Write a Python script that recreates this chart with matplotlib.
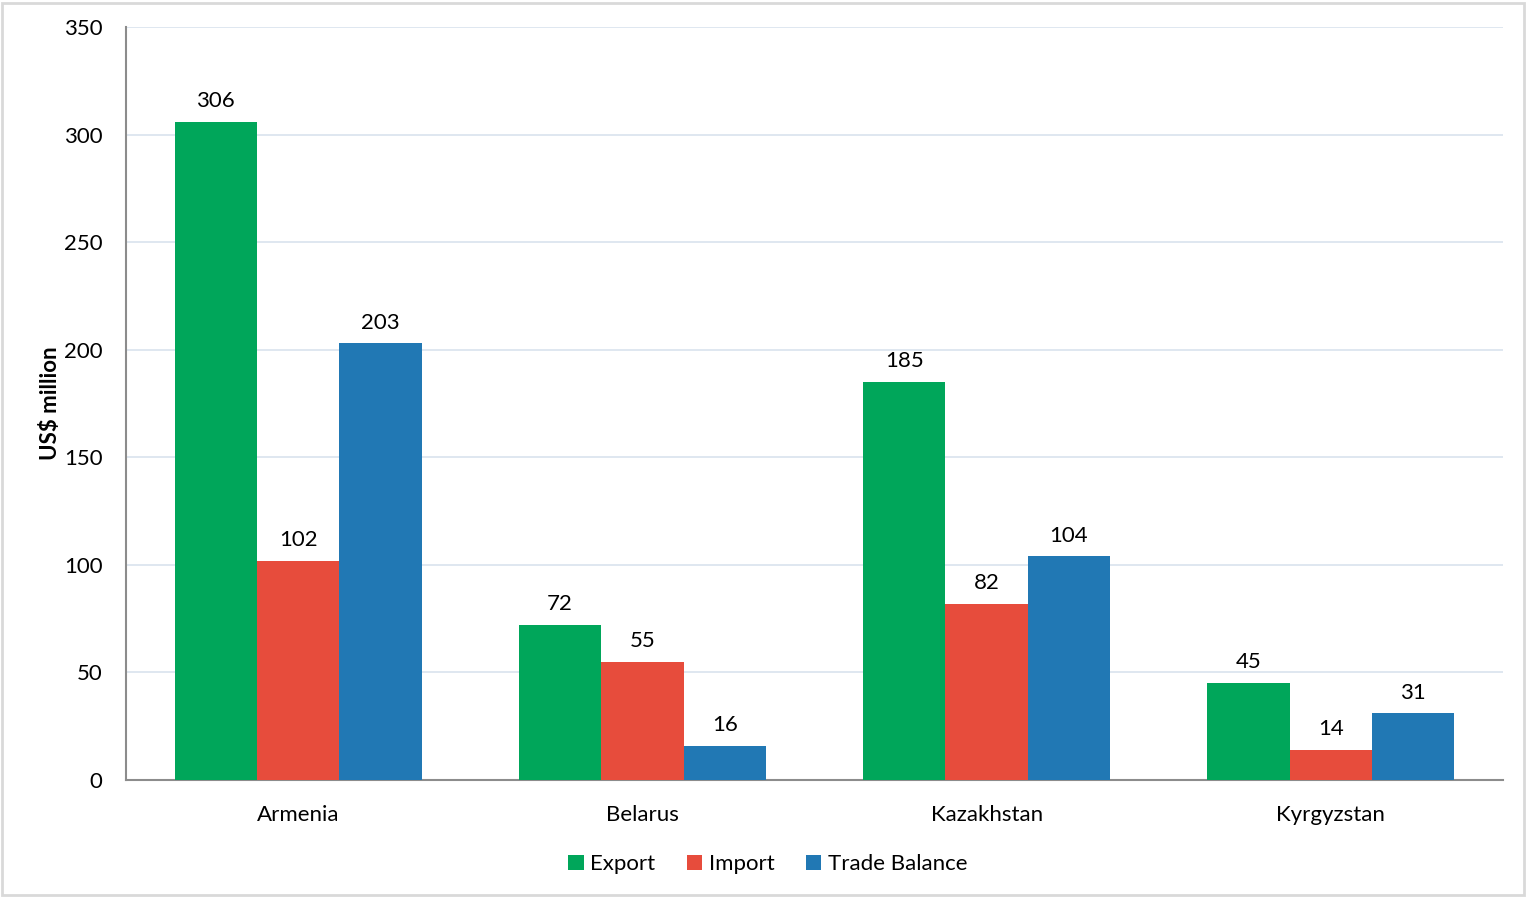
import matplotlib.pyplot as plt
import numpy as np
from matplotlib.patches import Rectangle

plt.rcParams['font.family'] = ['Lato', 'DejaVu Sans']

countries = ['Armenia', 'Belarus', 'Kazakhstan', 'Kyrgyzstan']
export = [306, 72, 185, 45]
imports = [102, 55, 82, 14]
balance = [203, 16, 104, 31]

series = ['Export', 'Import', 'Trade Balance']
colors = ['#00A65A', '#E74C3C', '#2178B4']

fig = plt.figure(figsize=(15.27, 8.97), dpi=100)
ax = fig.add_axes([0.0825, 0.1304, 0.9018, 0.8395])

x = np.arange(len(countries))
w = 0.239
for i, (vals, name, c) in enumerate(zip([export, imports, balance], series, colors)):
    bars = ax.bar(x + (i - 1) * w, vals, w, color=c, label=name, zorder=3)
    for b, v in zip(bars, vals):
        ax.text(b.get_x() + b.get_width() / 2, v + 5, str(v), ha='center', va='bottom',
                fontsize=16, color='black')

ax.set_xlim(-0.5, 3.5)
ax.set_ylim(0, 350)
ax.set_yticks(range(0, 351, 50))
ax.set_xticks(x)
ax.set_xticklabels(countries)
ax.tick_params(axis='both', length=0, labelsize=16)
ax.tick_params(axis='y', pad=17)
ax.tick_params(axis='x', pad=18)
ax.grid(axis='y', color='#D9E3EE', linewidth=1.2, zorder=0)
for s in ['top', 'right']:
    ax.spines[s].set_visible(False)
ax.spines['left'].set_color('#8C8C8C')
ax.spines['bottom'].set_color('#8C8C8C')
ax.spines['left'].set_linewidth(1.5)
ax.spines['bottom'].set_linewidth(1.5)
ax.set_ylabel('US$ million', fontsize=16, fontweight='bold', labelpad=2)

ax.legend(loc='upper center', bbox_to_anchor=(0.466, -0.072), ncol=3, frameon=False,
          fontsize=16, handlelength=0.7, handleheight=0.7, handletextpad=0.3,
          columnspacing=1.4)

fig.patches.append(Rectangle((0.001, 0.002), 0.997, 0.995, transform=fig.transFigure,
                             fill=False, edgecolor='#D9D9D9', linewidth=2))

fig.savefig('out.png', dpi=100)
